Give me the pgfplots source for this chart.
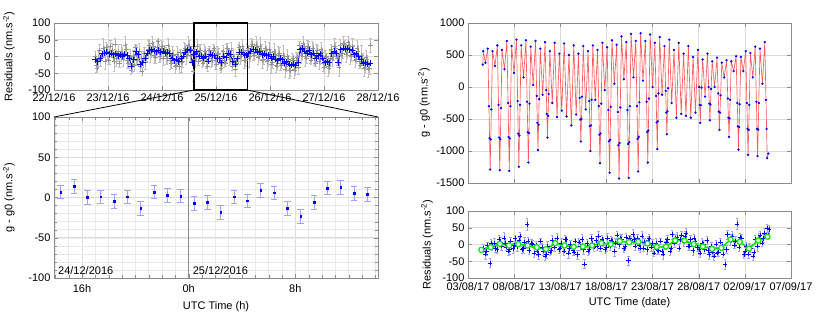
\documentclass[border=0pt]{standalone}
\usepackage{fontspec}
\setmainfont{Liberation Sans}
\usepackage{pgfplots}
\pgfplotsset{compat=1.18}
\definecolor{gridc}{HTML}{DCDCDC}
\definecolor{framec}{HTML}{8C8C8C}
\definecolor{pblue}{HTML}{0000FF}
\definecolor{lblue}{HTML}{A0A0FF}
\definecolor{pgreen}{HTML}{00E600}
\definecolor{pred}{HTML}{FF5A5A}
\pgfplotsset{
  every axis/.append style={
    scale only axis,
    font=\fontsize{11}{13}\selectfont,
    /pgf/number format/assume math mode=true,
    /pgf/number format/1000 sep={},
    scaled y ticks=false,
    axis line style={framec},
    tick style={framec},
    major grid style={gridc, line width=0.6pt},
    minor grid style={gridc!60, line width=0.4pt},
    tick align=inside,
    ymajorgrids, xmajorgrids,
    anchor=south west,
  },
}
\begin{document}
\begin{tikzpicture}
\useasboundingbox (0,0) rectangle (831pt,313pt);
% ---------------- top left ----------------
\begin{axis}[name=tl, at={(54pt,223pt)}, width=324pt, height=67pt,
  clip=false,
  xmin=0, xmax=144, ymin=-100, ymax=100,
  xtick={0,24,...,144},
  xticklabels={22/12/16,23/12/16,24/12/16,25/12/16,26/12/16,27/12/16,28/12/16},
  ytick={-100,-50,0,50,100},
  xticklabel style={yshift=-0.5pt},
  ylabel={Residuals (nm.s\textsuperscript{-2})},
  ylabel style={at={(axis description cs:-0.139,0.5)}, anchor=center},
]
\addplot[only marks, mark=+, mark size=2.2pt, color=gray!85,
  error bars/.cd, y dir=both, y explicit,
  error bar style={gray!50, line width=0.4pt},
  error mark options={rotate=90, mark size=1.2pt, gray!50}]
  table[x index=0, y index=1, y error index=2, row sep=\\] {
x y e\\
18.15 2 15\\ 18.65 -25 22\\ 19.15 -35 12\\ 19.65 -7 25\\ 20.15 20 18\\ 20.65 -10 20\\
21.15 -2 10\\ 21.65 26 28\\ 22.15 15 16\\ 22.65 -15 24\\ 23.15 27 15\\ 23.65 15 22\\
24.15 -10 12\\ 24.65 2 25\\ 25.15 32 18\\ 25.65 20 20\\ 26.15 -3 10\\ 26.65 -15 28\\
27.15 38 16\\ 27.65 -4 24\\ 28.15 2 15\\ 28.65 16 22\\ 29.15 -20 12\\ 29.65 11 25\\
30.15 10 18\\ 30.65 -8 20\\ 31.15 1 10\\ 31.65 34 28\\ 32.15 22 16\\ 32.65 -12 24\\
33.15 -19 15\\ 33.65 -1 22\\ 34.15 -40 12\\ 34.65 -22 25\\ 35.15 2 18\\ 35.65 -25 20\\
36.15 28 10\\ 36.65 5 28\\ 37.15 -10 16\\ 37.65 15 24\\ 38.15 -30 15\\ 38.65 -5 22\\
39.15 -45 12\\ 39.65 -8 25\\ 40.15 10 18\\ 40.65 -18 20\\ 41.15 -5 10\\ 41.65 22 28\\
42.15 35 16\\ 42.65 8 24\\ 43.15 12 15\\ 43.65 40 22\\ 44.15 30 12\\ 44.65 5 25\\
45.15 -2 18\\ 45.65 28 20\\ 46.15 45 10\\ 46.65 10 28\\ 47.15 0 16\\ 47.65 25 24\\
48.15 30 15\\ 48.65 -5 22\\ 49.15 22 12\\ 49.65 2 25\\ 50.15 -6 18\\ 50.65 35 20\\
51.15 20 10\\ 51.65 -10 28\\ 52.15 -20 16\\ 52.65 8 24\\ 53.15 5 15\\ 53.65 -28 22\\
54.15 -25 12\\ 54.65 6 25\\ 55.15 -2 18\\ 55.65 -30 20\\ 56.15 12 10\\ 56.65 -18 28\\
57.15 -15 16\\ 57.65 20 24\\ 58.15 25 15\\ 58.65 0 22\\ 59.15 8 12\\ 59.65 35 25\\
60.15 30 18\\ 60.65 5 20\\ 61.15 20 10\\ 61.65 -45 28\\ 62.15 22 16\\ 62.65 -8 24\\
63.15 2 15\\ 63.65 30 22\\ 64.15 -15 12\\ 64.65 12 25\\ 65.15 18 18\\ 65.65 -12 20\\
66.15 -20 10\\ 66.65 8 28\\ 67.15 15 16\\ 67.65 -10 24\\ 68.15 -30 15\\ 68.65 2 22\\
69.15 20 12\\ 69.65 -6 25\\ 70.15 -12 18\\ 70.65 18 20\\ 71.15 25 10\\ 71.65 -10 28\\
72.15 -22 16\\ 72.65 6 24\\ 73.15 10 15\\ 73.65 -20 22\\ 74.15 -35 12\\ 74.65 -5 25\\
75.15 15 18\\ 75.65 -12 20\\ 76.15 -20 10\\ 76.65 10 28\\ 77.15 25 16\\ 77.65 -2 24\\
78.15 -8 15\\ 78.65 20 22\\ 79.15 -28 12\\ 79.65 0 25\\ 80.15 -10 18\\ 80.65 -38 20\\
81.15 -20 10\\ 81.65 8 28\\ 82.15 28 16\\ 82.65 0 24\\ 83.15 2 15\\ 83.65 30 22\\
84.15 20 12\\ 84.65 -10 25\\ 85.15 -12 18\\ 85.65 18 20\\ 86.15 25 10\\ 86.65 -5 28\\
87.15 2 16\\ 87.65 32 24\\ 88.15 38 15\\ 88.65 10 22\\ 89.15 5 12\\ 89.65 35 25\\
90.15 28 18\\ 90.65 -2 20\\ 91.15 0 10\\ 91.65 30 28\\ 92.15 20 16\\ 92.65 -12 24\\
93.15 -8 15\\ 93.65 25 22\\ 94.15 18 12\\ 94.65 -15 25\\ 95.15 -10 18\\ 95.65 22 20\\
96.15 12 10\\ 96.65 -22 28\\ 97.15 -18 16\\ 97.65 15 24\\ 98.15 8 15\\ 98.65 -25 22\\
99.15 -28 12\\ 99.65 5 25\\ 100.15 10 18\\ 100.65 -20 20\\ 101.15 -25 10\\ 101.65 5 28\\
102.15 -5 16\\ 102.65 -38 24\\ 103.15 -30 15\\ 103.65 0 22\\ 104.15 -8 12\\ 104.65 -40 25\\
105.15 -42 18\\ 105.65 -10 20\\ 106.15 -5 10\\ 106.65 -38 28\\ 107.15 -40 16\\ 107.65 -12 24\\
108.15 -2 15\\ 108.65 -32 22\\ 109.15 35 12\\ 109.65 5 25\\ 110.15 10 18\\ 110.65 40 20\\
111.15 30 10\\ 111.65 0 28\\ 112.15 -5 16\\ 112.65 25 24\\ 113.15 32 15\\ 113.65 2 22\\
114.15 -10 12\\ 114.65 20 25\\ 115.15 25 18\\ 115.65 -6 20\\ 116.15 -20 10\\ 116.65 10 28\\
117.15 18 16\\ 117.65 -15 24\\ 118.15 -8 15\\ 118.65 22 22\\ 119.15 12 12\\ 119.65 -20 25\\
120.15 -32 18\\ 120.65 -2 20\\ 121.15 0 10\\ 121.65 -30 28\\ 122.15 -35 16\\ 122.65 -5 24\\
123.15 22 15\\ 123.65 -8 22\\ 124.15 0 12\\ 124.65 30 25\\ 125.15 25 18\\ 125.65 -5 20\\
126.15 -2 10\\ 126.65 -32 28\\ 127.15 35 16\\ 127.65 5 24\\ 128.15 10 15\\ 128.65 40 22\\
129.15 38 12\\ 129.65 8 25\\ 130.15 12 18\\ 130.65 42 20\\ 131.15 35 10\\ 131.65 5 28\\
132.15 2 16\\ 132.65 32 24\\ 133.15 20 15\\ 133.65 -10 22\\ 134.15 -8 12\\ 134.65 25 25\\
135.15 15 18\\ 135.65 -15 20\\ 136.15 -25 10\\ 136.65 5 28\\ 137.15 -5 16\\ 137.65 -35 24\\
138.15 -32 15\\ 138.65 -2 22\\ 139.15 -8 12\\ 139.65 -38 25\\ 140.15 -35 18\\ 140.65 34 20\\
};
\addplot[pblue, line width=0.8pt, mark=+, mark size=3pt, mark options={line width=0.7pt}]
  table[row sep=\\] {
x y\\
18.4 -10\\ 19.4 -15\\ 20.4 -5\\ 21.4 8\\ 22.4 10\\ 23.4 12\\ 24.4 8\\ 25.4 10\\ 26.4 5\\ 27.4 8\\
28.4 2\\ 29.4 5\\ 30.4 0\\ 31.4 6\\ 32.4 4\\ 33.4 -5\\ 34.4 -28\\ 35.4 -10\\ 36.4 15\\ 37.4 5\\
38.4 -22\\ 39.4 -18\\ 40.4 -5\\ 41.4 10\\ 42.4 18\\ 43.4 20\\ 44.4 15\\ 45.4 14\\ 46.4 18\\ 47.4 12\\
48.4 15\\ 49.4 10\\ 50.4 12\\ 51.4 8\\ 52.4 -5\\ 53.4 -12\\ 54.4 -8\\ 55.4 -15\\ 56.4 -5\\ 57.4 0\\
58.4 12\\ 59.4 20\\ 60.4 18\\ 61.4 -18\\ 62.4 7\\ 63.4 14\\ 64.4 0\\ 65.4 1\\ 66.4 -5\\ 67.4 1\\
68.4 -13\\ 69.4 7\\ 70.4 3\\ 71.4 2\\ 72.4 -7\\ 73.4 -6\\ 74.4 -18\\ 75.4 1\\ 76.4 -4\\ 77.4 9\\
78.4 6\\ 79.4 -13\\ 80.4 -23\\ 81.4 -6\\ 82.4 12\\ 83.4 13\\ 84.4 5\\ 85.4 4\\ 86.4 8\\ 87.4 15\\
88.4 22\\ 89.4 20\\ 90.4 12\\ 91.4 15\\ 92.4 5\\ 93.4 8\\ 94.4 2\\ 95.4 5\\ 96.4 -5\\ 97.4 0\\
98.4 -8\\ 99.4 -12\\ 100.4 -5\\ 101.4 -10\\ 102.4 -20\\ 103.4 -15\\ 104.4 -22\\ 105.4 -25\\ 106.4 -22\\ 107.4 -25\\
108.4 -18\\ 109.4 20\\ 110.4 25\\ 111.4 15\\ 112.4 10\\ 113.4 18\\ 114.4 5\\ 115.4 10\\ 116.4 -5\\ 117.4 2\\
118.4 8\\ 119.4 -5\\ 120.4 -18\\ 121.4 -15\\ 122.4 -18\\ 123.4 8\\ 124.4 15\\ 125.4 10\\ 126.4 -18\\ 127.4 20\\
128.4 25\\ 129.4 22\\ 130.4 25\\ 131.4 20\\ 132.4 18\\ 133.4 5\\ 134.4 8\\ 135.4 0\\ 136.4 -10\\ 137.4 -20\\
138.4 -18\\ 139.4 -22\\ 140.4 -20\\
};
\draw[black, line width=1.1pt] (axis cs:62.2,-100) rectangle (axis cs:85.8,100);
\coordinate (b1) at (axis cs:62.2,-100);
\coordinate (b2) at (axis cs:85.8,-100);
\end{axis}
% ---------------- bottom left ----------------
\begin{axis}[name=bl, at={(54pt,35pt)}, width=324pt, height=161pt,
  xmin=13.9, xmax=38.2, ymin=-100, ymax=100,
  xtick={16,24,32}, xticklabels={16h,0h,8h},
  minor xtick={14,...,38}, minor ytick={-90,-80,...,90},
  xminorgrids, yminorgrids,
  ytick={-100,-50,0,50,100},
  xticklabel style={yshift=-3pt},
  ylabel={g - g0 (nm.s\textsuperscript{-2})},
  ylabel style={at={(axis description cs:-0.139,0.5)}, anchor=center},
  xlabel={UTC Time (h)},
  xlabel style={at={(axis description cs:0.5,-0.18)}, anchor=center},
]
\draw[gray!90, line width=0.6pt] (axis cs:24,-100) -- (axis cs:24,100);
\addplot[only marks, mark=square*, mark size=0.9pt, color=pblue,
  error bars/.cd, y dir=both, y explicit,
  error bar style={lblue, line width=0.5pt},
  error mark options={rotate=90, mark size=3.2pt, lblue, line width=0.5pt}]
  table[x index=0, y index=1, y error index=2, row sep=\\] {
x y e\\
14.4 7 8.5\\ 15.4 14 8.5\\ 16.4 0 8.5\\ 17.4 1 8.5\\ 18.4 -5 8.5\\ 19.4 1 8.5\\
20.4 -13 8.5\\ 21.4 7 8.5\\ 22.4 3 8.5\\ 23.4 2 8.5\\ 24.4 -7 8.5\\ 25.4 -6 8.5\\
26.4 -18 8.5\\ 27.4 1 8.5\\ 28.4 -4 8.5\\ 29.4 9 8.5\\ 30.4 6 8.5\\ 31.4 -13 8.5\\
32.4 -23 8.5\\ 33.4 -6 8.5\\ 34.4 12 8.5\\ 35.4 13 8.5\\ 36.4 5 8.5\\ 37.4 4 8.5\\
};
\node[anchor=west, inner sep=0pt] at (axis cs:14.2,-91) {24/12/2016};
\node[anchor=west, inner sep=0pt] at (axis cs:24.3,-91) {25/12/2016};
\coordinate (c1) at (rel axis cs:0,1);
\coordinate (c2) at (rel axis cs:1,1);
\end{axis}
\draw[black, line width=0.8pt] (b1) -- (c1);
\draw[black, line width=0.8pt] (b2) -- (c2);
% ---------------- top right ----------------
\begin{axis}[name=tr, at={(468pt,130pt)}, width=323pt, height=160pt,
  xmin=0, xmax=35, ymin=-1500, ymax=1000,
  xtick={0,5,...,35}, xticklabels={},
  ytick={-1500,-1000,...,1000},
  ylabel={g - g0 (nm.s\textsuperscript{-2})},
  ylabel style={at={(axis description cs:-0.136,0.5)}, anchor=center},
]
\addplot[pred, line width=0.65pt, mark=*, mark size=0.8pt, mark options={pblue, draw=pblue}]
  table[row sep=\\] {
x y\\
1.60 350\\ 1.66 560\\ 1.88 380\\ 2.14 600\\ 2.27 -300\\ 2.335 -800\\ 2.40 -1290\\ 2.465 -820\\ 2.53 -350\\ 2.66 560\\
2.92 330\\ 3.18 650\\ 3.31 -280\\ 3.375 -790\\ 3.44 -1300\\ 3.505 -815\\ 3.57 -330\\ 3.69 580\\ 3.95 280\\ 4.21 720\\
4.34 -250\\ 4.405 -780\\ 4.47 -1310\\ 4.535 -805\\ 4.60 -300\\ 4.73 640\\ 4.99 220\\ 5.25 740\\ 5.38 -220\\ 5.445 -730\\ 5.51 -1245\\
5.575 -760\\ 5.64 -280\\ 5.76 650\\ 6.02 150\\ 6.28 730\\ 6.41 -230\\ 6.475 -705\\ 6.54 -1180\\ 6.605 -720\\ 6.67 -260\\ 6.80 630\\
7.06 30\\ 7.32 720\\ 7.45 -140\\ 7.515 -560\\ 7.58 -985\\ 7.645 -590\\ 7.71 -190\\ 7.83 600\\ 8.09 -120\\ 8.35 700\\
8.48 -50\\ 8.545 -420\\ 8.61 -790\\ 8.675 -450\\ 8.74 -110\\ 8.87 560\\ 9.13 -250\\ 9.39 690\\ 9.65 -470\\ 9.90 520\\
10.16 -370\\ 10.42 680\\ 10.68 -460\\ 10.94 500\\ 11.20 -600\\ 11.46 650\\ 11.72 -430\\ 11.97 520\\
12.10 -170\\ 12.165 -510\\ 12.23 -850\\ 12.295 -500\\ 12.36 -150\\ 12.49 640\\ 12.75 -350\\ 13.01 560\\ 13.14 -220\\ 13.205 -610\\ 13.27 -1000\\
13.335 -600\\ 13.40 -200\\ 13.53 650\\ 13.79 -200\\ 14.04 580\\ 14.17 -300\\ 14.235 -745\\ 14.30 -1190\\ 14.365 -725\\ 14.43 -260\\ 14.56 690\\
14.82 -50\\ 15.08 620\\ 15.21 -360\\ 15.275 -850\\ 15.34 -1340\\ 15.405 -825\\ 15.47 -310\\ 15.60 730\\ 15.86 50\\ 16.11 660\\
16.24 -390\\ 16.305 -910\\ 16.37 -1430\\ 16.435 -875\\ 16.50 -320\\ 16.63 790\\ 16.89 120\\ 17.15 700\\ 17.28 -360\\ 17.345 -890\\ 17.41 -1420\\
17.475 -860\\ 17.54 -300\\ 17.67 830\\ 17.93 150\\ 18.18 720\\ 18.31 -300\\ 18.375 -810\\ 18.44 -1320\\ 18.505 -780\\ 18.57 -240\\ 18.70 840\\
18.96 100\\ 19.22 720\\ 19.35 -230\\ 19.415 -705\\ 19.48 -1180\\ 19.545 -680\\ 19.61 -180\\ 19.74 820\\ 20.00 0\\ 20.25 690\\
20.38 -140\\ 20.445 -555\\ 20.51 -970\\ 20.575 -535\\ 20.64 -100\\ 20.77 780\\ 21.03 -120\\ 21.29 640\\ 21.42 -60\\ 21.485 -400\\ 21.55 -740\\
21.615 -380\\ 21.68 -20\\ 21.81 740\\ 22.07 -250\\ 22.32 580\\ 22.58 -480\\ 22.84 690\\ 23.10 -420\\ 23.36 520\\
23.62 -450\\ 23.88 640\\ 24.14 -480\\ 24.39 470\\ 24.65 -400\\ 24.91 580\\ 25.04 0\\ 25.105 -280\\ 25.17 -560\\
25.235 -285\\ 25.30 -10\\ 25.43 430\\ 25.69 -150\\ 25.95 520\\ 26.08 0\\ 26.145 -260\\ 26.21 -520\\ 26.275 -275\\ 26.34 -30\\ 26.46 400\\
26.72 0\\ 26.98 460\\ 27.11 -100\\ 27.175 -385\\ 27.24 -670\\ 27.305 -400\\ 27.37 -130\\ 27.50 380\\ 27.76 150\\ 28.02 420\\
28.15 -180\\ 28.215 -480\\ 28.28 -780\\ 28.345 -490\\ 28.41 -200\\ 28.53 400\\ 28.79 250\\ 29.05 480\\ 29.18 -250\\ 29.245 -615\\ 29.31 -980\\
29.375 -625\\ 29.44 -270\\ 29.57 470\\ 29.83 250\\ 30.09 560\\ 30.22 -250\\ 30.285 -655\\ 30.35 -1060\\ 30.415 -670\\ 30.48 -280\\ 30.60 530\\
30.86 150\\ 31.12 630\\ 31.25 -230\\ 31.315 -655\\ 31.38 -1080\\ 31.445 -665\\ 31.51 -250\\ 31.64 600\\ 31.90 50\\ 32.16 700\\
32.29 -200\\ 32.355 -655\\ 32.42 -1110\\ 32.55 -1040\\
};
\end{axis}
% ---------------- bottom right ----------------
\begin{axis}[name=br, at={(468pt,35pt)}, width=323pt, height=67pt,
  xmin=0, xmax=35, ymin=-100, ymax=100,
  xtick={0,5,...,35},
  xticklabels={03/08/17,08/08/17,13/08/17,18/08/17,23/08/17,28/08/17,02/09/17,07/09/17},
  ytick={-100,-50,0,50,100},
  xticklabel style={yshift=-1pt},
  ylabel={Residuals (nm.s\textsuperscript{-2})},
  ylabel style={at={(axis description cs:-0.127,0.5)}, anchor=center},
  xlabel={UTC Time (date)},
  xlabel style={at={(axis description cs:0.5,-0.373)}, anchor=center},
]
\addplot[only marks, mark=+, mark size=2.2pt, color=pblue,
  error bars/.cd, y dir=both, y explicit,
  error bar style={lblue, line width=0.5pt},
  error mark options={rotate=90, mark size=1.2pt, lblue}]
  table[x index=0, y index=1, y error index=2, row sep=\\] {
x y e\\
1.625 -10 12\\ 1.875 -28 15\\ 2.0 -20 13\\ 2.125 -2 10\\ 2.375 -55 14\\ 2.5 5 11\\ 2.625 -6 12\\ 2.875 5 15\\
3.0 -12 12\\ 3.125 -15 11\\ 3.375 15 14\\ 3.5 8 14\\ 3.625 -5 12\\ 3.875 20 16\\ 4.0 5 11\\ 4.125 -8 10\\ 4.375 -20 13\\
4.5 -15 13\\ 4.625 10 12\\ 4.875 -12 15\\ 5.0 -3 12\\ 5.125 18 11\\ 5.375 -6 14\\ 5.5 12 10\\ 5.625 25 12\\ 5.875 -15 10\\
6.0 -12 14\\ 6.125 8 15\\ 6.375 60 18\\ 6.5 10 12\\ 6.625 -18 12\\ 6.875 5 11\\ 7.0 2 11\\ 7.125 -25 14\\ 7.375 -2 12\\
7.5 -20 13\\ 7.625 -30 15\\ 7.875 10 10\\ 8.0 -8 12\\ 8.125 -20 13\\ 8.375 -35 12\\ 8.5 -28 14\\ 8.625 -5 14\\ 8.875 -22 11\\
9.0 -18 12\\ 9.125 12 15\\ 9.375 -8 12\\ 9.5 8 11\\ 9.625 20 13\\ 9.875 -15 10\\ 10.0 -10 13\\ 10.125 5 14\\ 10.375 -20 12\\
10.5 15 12\\ 10.625 15 11\\ 10.875 -25 15\\ 11.0 -12 14\\ 11.125 2 12\\ 11.375 -18 13\\ 11.5 -22 11\\ 11.625 10 10\\ 11.875 -30 14\\
12.0 8 12\\ 12.125 -5 12\\ 12.375 15 15\\ 12.5 -15 13\\ 12.625 -58 14\\ 12.875 3 12\\ 13.0 -20 11\\ 13.125 -15 13\\ 13.375 18 14\\
13.5 5 14\\ 13.625 -8 11\\ 13.875 12 12\\ 14.0 -5 12\\ 14.125 25 14\\ 14.375 -10 10\\ 14.5 15 13\\ 14.625 8 13\\ 14.875 -15 12\\
15.0 -8 11\\ 15.125 20 15\\ 15.375 -5 11\\ 15.5 12 12\\ 15.625 10 12\\ 15.875 -20 14\\ 16.0 5 14\\ 16.125 28 13\\ 16.375 0 10\\
16.5 20 12\\ 16.625 15 15\\ 16.875 -12 12\\ 17.0 -5 13\\ 17.125 22 11\\ 17.375 -48 14\\ 17.5 18 11\\ 17.625 12 12\\ 17.875 30 15\\
18.0 15 12\\ 18.125 -5 11\\ 18.375 18 13\\ 18.5 -2 14\\ 18.625 -10 12\\ 18.875 25 14\\ 19.0 -10 11\\ 19.125 8 10\\ 19.375 -15 15\\
19.5 12 13\\ 19.625 20 12\\ 19.875 -8 13\\ 20.0 5 12\\ 20.125 -25 11\\ 20.375 5 14\\ 20.5 -15 14\\ 20.625 -18 12\\ 20.875 10 10\\
21.0 -20 12\\ 21.125 -28 15\\ 21.375 -2 12\\ 21.5 8 11\\ 21.625 15 13\\ 21.875 -20 11\\ 22.0 -10 13\\ 22.125 30 14\\ 22.375 5 12\\
22.5 18 12\\ 22.625 22 15\\ 22.875 -10 10\\ 23.0 15 12\\ 23.125 28 13\\ 23.375 8 12\\ 23.5 25 14\\ 23.625 35 14\\ 23.875 -5 11\\
24.0 -5 11\\ 24.125 15 12\\ 24.375 -18 15\\ 24.5 20 12\\ 24.625 10 10\\ 24.875 -8 13\\ 25.0 -15 13\\ 25.125 -25 12\\ 25.375 5 14\\
25.5 2 12\\ 25.625 -15 11\\ 25.875 12 12\\ 26.0 -18 12\\ 26.125 -30 15\\ 26.375 -5 13\\ 26.5 -22 14\\ 26.625 -35 12\\ 26.875 2 10\\
27.0 -25 11\\ 27.125 -22 14\\ 27.375 8 12\\ 27.5 -5 13\\ 27.625 -28 11\\ 27.875 -60 15\\ 28.0 -15 12\\ 28.125 30 13\\ 28.375 10 12\\
28.5 20 12\\ 28.625 25 14\\ 28.875 -2 10\\ 29.0 10 14\\ 29.125 62 16\\ 29.375 -8 12\\ 29.5 22 11\\ 29.625 18 13\\ 29.875 -30 11\\
30.0 -20 12\\ 30.125 -5 12\\ 30.375 -28 14\\ 30.5 -10 13\\ 30.625 -12 11\\ 30.875 -35 13\\ 31.0 -22 12\\ 31.125 15 12\\ 31.375 -5 14\\
31.5 20 14\\ 31.625 28 12\\ 31.875 5 10\\ 32.0 18 12\\ 32.125 35 15\\ 32.375 50 12\\ 32.5 28 13\\ 32.625 45 14\\
};
\addplot[pgreen, line width=1.6pt, mark=*, mark size=2.6pt, mark options={fill=white, draw=pgreen, line width=1.2pt}]
  table[row sep=\\] {
x y\\
1.45 -16\\ 2.45 -8\\ 3.45 2\\ 4.45 -3\\ 5.45 1\\ 6.45 -3\\ 7.45 -8\\ 8.45 -14\\
9.45 4\\ 10.45 -3\\ 11.45 -7\\ 12.45 -6\\ 13.45 -3\\ 14.45 4\\ 15.45 1\\ 16.45 10\\
17.45 7\\ 18.45 8\\ 19.45 3\\ 20.45 -7\\ 21.45 -6\\ 22.45 12\\ 23.45 12\\ 24.45 1\\
25.45 -6\\ 26.45 -13\\ 27.45 -10\\ 28.45 15\\ 29.45 8\\ 30.45 -12\\ 31.45 12\\ 32.45 23\\
};
\end{axis}
\end{tikzpicture}
\end{document}
